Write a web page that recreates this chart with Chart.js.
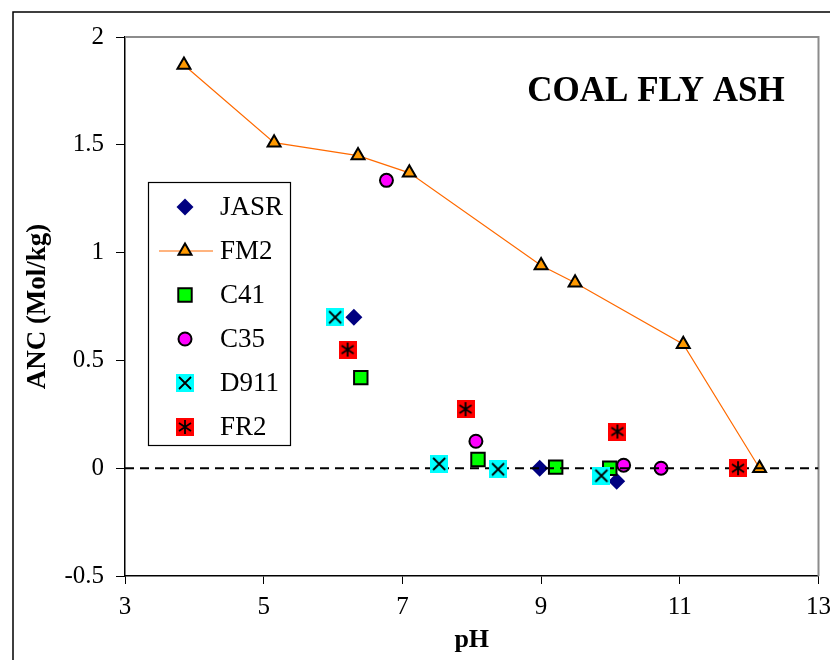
<!DOCTYPE html>
<html>
<head>
<meta charset="utf-8">
<title>Coal fly ash ANC</title>
<script src="https://cdn.jsdelivr.net/npm/chart.js@4.4.1/dist/chart.umd.min.js"></script>
<style>
  html, body { margin: 0; padding: 0; background: #fff; }
  canvas { display: block; }
</style>
</head>
<body>
<canvas id="ancChart" width="830" height="660"></canvas>
<script>
// ANC vs pH for coal fly ash samples
const xTicks = [3, 5, 7, 9, 11, 13];
const yTicks = [-0.5, 0, 0.5, 1, 1.5, 2];

const jasrPH  = [6.30, 8.98, 10.09];
const jasrANC = [0.70, 0.00, -0.06];

const fm2PH  = [3.85, 5.15, 6.36, 7.10, 9.00, 9.49, 11.05, 12.15];
const fm2ANC = [1.87, 1.51, 1.45, 1.37, 0.94, 0.86, 0.575, 0.00];

const c41PH  = [6.40, 8.09, 9.21, 9.99];
const c41ANC = [0.42, 0.04, 0.005, 0.00];

const c35PH  = [6.77, 8.06, 10.19, 10.73];
const c35ANC = [1.335, 0.125, 0.014, 0.00];

const d911PH  = [6.03, 7.53, 8.38, 9.87];
const d911ANC = [0.70, 0.02, -0.005, -0.035];

const fr2PH  = [6.21, 7.91, 10.10, 11.84];
const fr2ANC = [0.55, 0.274, 0.17, 0.00];

const zeroPH  = [3, 13];
const zeroANC = [0, 0];

const serif = "'Liberation Serif', 'Times New Roman', serif";

function pts(xs, ys) {
  return xs.map((x, i) => ({ x: x, y: ys[i] }));
}

// filled square with a black glyph on top, used as a point image
function boxMarker(fill, glyph) {
  const c = document.createElement('canvas');
  c.width = 18;
  c.height = 18;
  const g = c.getContext('2d');
  g.fillStyle = fill;
  g.fillRect(0, 0, 18, 18);
  g.strokeStyle = '#000';
  g.lineWidth = 1.8;
  g.beginPath();
  if (glyph === 'x') {
    g.moveTo(3, 3); g.lineTo(15, 15);
    g.moveTo(15, 3); g.lineTo(3, 15);
  } else {
    g.moveTo(9, 2); g.lineTo(9, 16);
    g.moveTo(3, 5); g.lineTo(15, 13);
    g.moveTo(15, 5); g.lineTo(3, 13);
  }
  g.stroke();
  return c;
}

const d911Marker = boxMarker('#00FFFF', 'x');
const fr2Marker = boxMarker('#FF0000', 'star');

const series = [
  {
    label: 'FR2', data: pts(fr2PH, fr2ANC), order: 0,
    pointStyle: fr2Marker, pointRadius: 9,
    backgroundColor: '#FF0000', borderColor: '#000', pointBorderWidth: 0
  },
  {
    label: 'D911', data: pts(d911PH, d911ANC), order: 1,
    pointStyle: d911Marker, pointRadius: 9,
    backgroundColor: '#00FFFF', borderColor: '#000', pointBorderWidth: 0
  },
  {
    label: 'C35', data: pts(c35PH, c35ANC), order: 3,
    pointStyle: 'circle', pointRadius: 6.5,
    backgroundColor: '#FF00FF', borderColor: '#000', pointBorderWidth: 2
  },
  {
    label: 'C41', data: pts(c41PH, c41ANC), order: 4,
    pointStyle: 'rect', pointRadius: 9.5,
    backgroundColor: '#00FF00', borderColor: '#000', pointBorderWidth: 2
  },
  {
    label: 'FM2', data: pts(fm2PH, fm2ANC), order: 5, showLine: true,
    pointStyle: 'triangle', pointRadius: 7.5,
    backgroundColor: '#FF9900', borderColor: '#FF6A00', borderWidth: 1.2,
    pointBorderColor: '#000', pointBorderWidth: 2
  },
  {
    label: 'JASR', data: pts(jasrPH, jasrANC), order: 6,
    pointStyle: 'rectRot', pointRadius: 8.5,
    backgroundColor: '#000080', borderColor: '#000080', pointBorderWidth: 0
  }
];

const legendOrder = ['JASR', 'FM2', 'C41', 'C35', 'D911', 'FR2'];

const zeroLine = {
  label: 'zero', data: pts(zeroPH, zeroANC), order: 2, showLine: true,
  borderColor: '#000', borderWidth: 2, borderDash: [9, 6], pointRadius: 0
};

// frame, outer border, title and boxed legend
const decorPlugin = {
  id: 'decor',
  beforeDatasetsDraw(chart) {
    const { ctx, chartArea: a } = chart;
    ctx.save();
    ctx.strokeStyle = '#000';
    ctx.lineWidth = 1.5;
    ctx.strokeRect(13, 12, 900, 700);
    ctx.strokeStyle = '#8C8C8C';
    ctx.lineWidth = 2;
    ctx.beginPath();
    ctx.moveTo(a.left, a.top);
    ctx.lineTo(a.right, a.top);
    ctx.lineTo(a.right, a.bottom);
    ctx.stroke();
    ctx.restore();
  },
  afterDraw(chart) {
    const { ctx } = chart;
    ctx.save();
    ctx.fillStyle = '#000';
    ctx.font = 'bold 35px ' + serif;
    ctx.textAlign = 'center';
    ctx.textBaseline = 'middle';
    ctx.fillText('COAL FLY ASH', 656, 92);

    // legend box
    ctx.fillStyle = '#fff';
    ctx.fillRect(148, 182, 143, 263);
    ctx.strokeStyle = '#000';
    ctx.lineWidth = 1.2;
    ctx.strokeRect(148.5, 182.5, 142, 263);

    ctx.font = '27px ' + serif;
    ctx.textAlign = 'left';
    legendOrder.forEach((name, i) => {
      const ds = series.find((s) => s.label === name);
      const y = 207 + i * 44;
      const x = 185;
      if (ds.showLine) {
        ctx.strokeStyle = ds.borderColor;
        ctx.lineWidth = ds.borderWidth;
        ctx.beginPath();
        ctx.moveTo(159, y);
        ctx.lineTo(213, y);
        ctx.stroke();
      }
      ctx.fillStyle = ds.backgroundColor;
      ctx.strokeStyle = ds.pointBorderColor || ds.borderColor;
      ctx.lineWidth = ds.pointBorderWidth;
      Chart.helpers.drawPoint(ctx, {
        pointStyle: ds.pointStyle,
        radius: ds.pointRadius,
        borderWidth: ds.pointBorderWidth,
        rotation: 0
      }, x, y);
      ctx.fillStyle = '#000';
      ctx.textBaseline = 'middle';
      ctx.fillText(name, 220, y + 1);
    });
    ctx.restore();
  }
};

new Chart(document.getElementById('ancChart'), {
  type: 'scatter',
  data: { datasets: series.concat([zeroLine]) },
  options: {
    responsive: false,
    animation: false,
    layout: { padding: { top: 37, right: 9, left: 0, bottom: 0 } },
    plugins: {
      legend: { display: false },
      tooltip: { enabled: false }
    },
    scales: {
      x: {
        type: 'linear',
        min: 3,
        max: 13,
        afterBuildTicks: (s) => { s.ticks = xTicks.map((v) => ({ value: v })); },
        afterFit: (s) => { s.height = 84; s.paddingLeft = 0; s.paddingRight = 0; },
        ticks: {
          color: '#000', font: { family: serif, size: 25 }, padding: 8,
          callback: (v) => String(v)
        },
        grid: { drawOnChartArea: false, tickLength: 8, tickColor: '#000' },
        border: { color: '#000', width: 1.5 },
        title: {
          display: true, text: 'pH', color: '#000',
          font: { family: serif, size: 26, weight: 'bold' },
          padding: { top: 0, bottom: 4 }
        }
      },
      y: {
        min: -0.5,
        max: 2,
        afterBuildTicks: (s) => { s.ticks = yTicks.map((v) => ({ value: v })); },
        afterFit: (s) => { s.width = 125; s.paddingTop = 0; s.paddingBottom = 0; },
        ticks: {
          color: '#000', font: { family: serif, size: 25 }, padding: 12,
          callback: (v) => String(v)
        },
        grid: { drawOnChartArea: false, tickLength: 9, tickColor: '#000' },
        border: { color: '#000', width: 1.5 },
        title: {
          display: true, text: 'ANC (Mol/kg)', color: '#000',
          font: { family: serif, size: 27, weight: 'bold' },
          padding: { top: 22, bottom: 0 }
        }
      }
    }
  },
  plugins: [decorPlugin]
});
</script>
</body>
</html>
